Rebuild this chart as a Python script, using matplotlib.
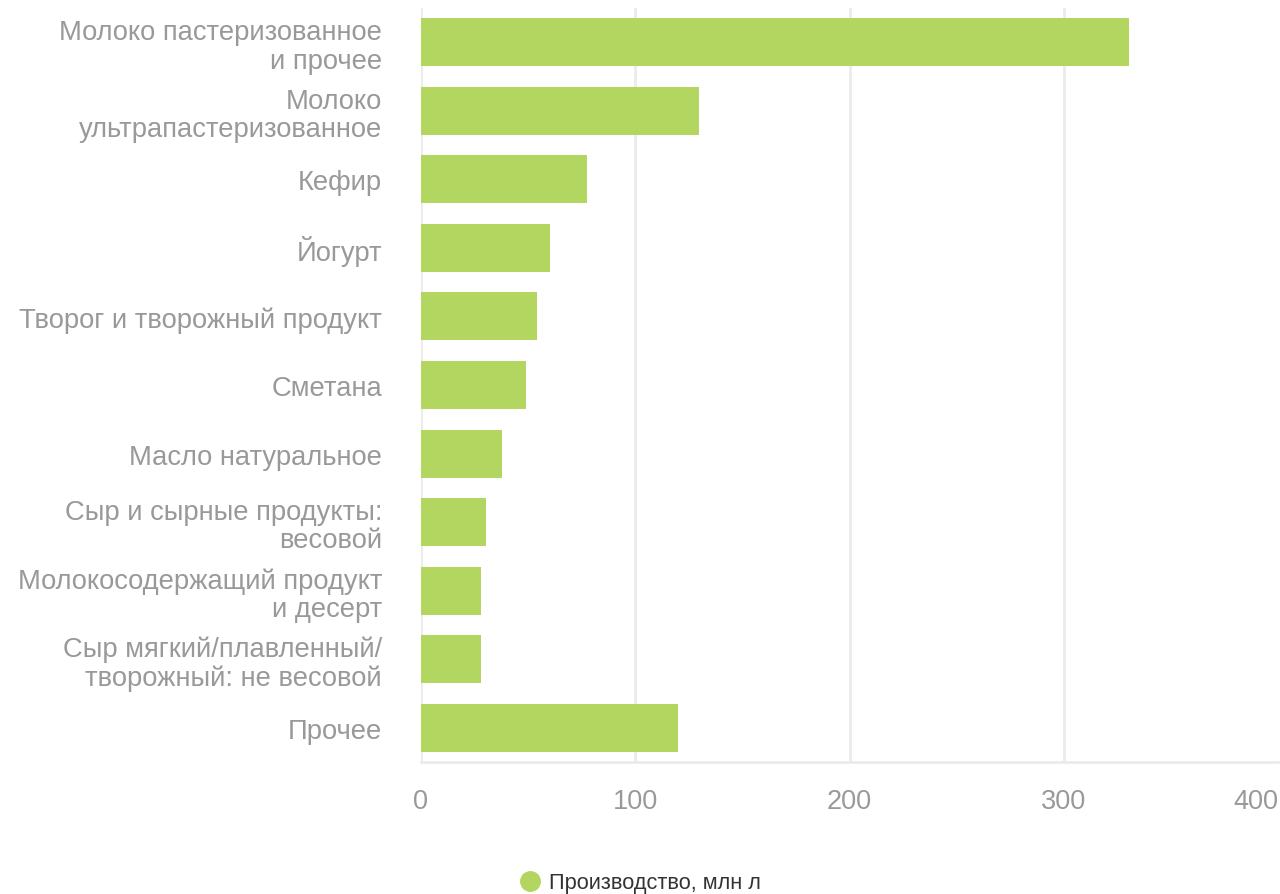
import matplotlib
matplotlib.use("Agg")
import matplotlib.pyplot as plt
from matplotlib.lines import Line2D

plt.rcParams['font.family'] = ['Liberation Sans', 'DejaVu Sans']

categories = [
    "Молоко пастеризованное\nи прочее",
    "Молоко\nультрапастеризованное",
    "Кефир",
    "Йогурт",
    "Творог и творожный продукт",
    "Сметана",
    "Масло натуральное",
    "Сыр и сырные продукты:\nвесовой",
    "Молокосодержащий продукт\nи десерт",
    "Сыр мягкий/плавленный/\nтворожный: не весовой",
    "Прочее",
]
values = [330.4, 129.8, 77.5, 60.2, 54.1, 49.0, 37.8, 30.3, 28.0, 28.0, 120.0]
x_ticks = [0, 100, 200, 300, 400]
series_name = "Производство, млн л"

bar_color = "#b2d65f"
grid_color = "#ebebeb"
label_color = "#999999"

fig = plt.figure(figsize=(12.8, 8.95), dpi=100)
ax = fig.add_axes([421/1280, 1 - 763/895, (1278 - 421)/1280, (763 - 9)/895])

ypos = list(range(len(categories)))
ax.barh(ypos, values, height=0.7, color=bar_color, zorder=3)
ax.set_ylim(len(categories) - 0.5, -0.5)
ax.set_xlim(0, 400)

ax.set_xticks(x_ticks)
ax.set_xticklabels([str(t) for t in x_ticks])
ax.set_yticks(ypos)
ax.set_yticklabels(categories, fontsize=19.7, color=label_color, linespacing=1.12)
ax.tick_params(axis='y', length=0, pad=28)
ax.tick_params(axis='x', length=0, pad=19, labelsize=19.5, labelcolor=label_color)
ax.get_xticklabels()[-1].set_horizontalalignment('right')

ax.grid(axis='x', color=grid_color, linewidth=2, zorder=0)
ax.xaxis.get_gridlines()[-1].set_visible(False)
ax.grid(axis='y', visible=False)
for s in ['top', 'right', 'left']:
    ax.spines[s].set_visible(False)
ax.spines['bottom'].set_color(grid_color)
ax.spines['bottom'].set_linewidth(2)

handle = Line2D([], [], marker='o', linestyle='none', markersize=14,
                markerfacecolor=bar_color, markeredgecolor=bar_color)
fig.legend([handle], [series_name], loc='center', bbox_to_anchor=(0.5, 11/895),
           frameon=False, fontsize=15.7, handletextpad=0.4, labelcolor='#333333',
           handlelength=1.0)

fig.savefig("out.png", dpi=100)
